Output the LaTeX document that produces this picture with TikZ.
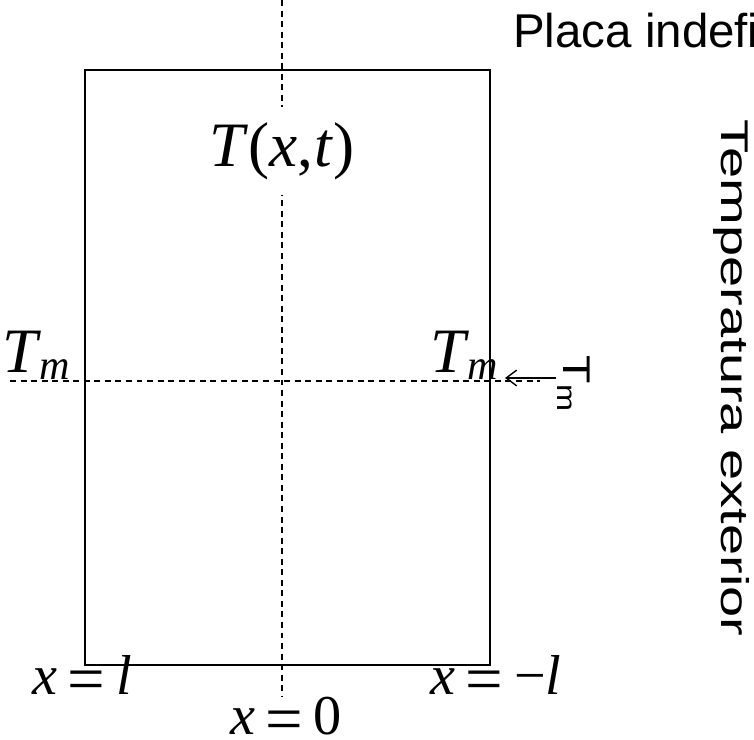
\documentclass[tikz,border=0pt]{standalone}
\usepackage{fontspec}
\setmainfont{Liberation Serif}
\newfontfamily\labelfont{Liberation Sans}
\usetikzlibrary{arrows.meta}
\newcommand{\Tmsub}{\textit{T}\kern-1pt\raisebox{-4pt}{\fontsize{24}{26}\selectfont\textit{m}}}
\newcommand{\eqsign}{\kern6pt\raisebox{-4pt}{\fontsize{38}{40}\selectfont=}\kern6pt}
\tikzset{
  axisline/.style={dash pattern=on 3.4pt off 2.6pt,line width=.8pt},
  mathlbl/.style={font=\fontsize{36}{40}\selectfont,inner sep=0pt},
  endlbl/.style={font=\fontsize{32}{36}\selectfont,inner sep=0pt,anchor=base west},
  sanslbl/.style={font=\labelfont\fontsize{22}{26}\selectfont,inner sep=0pt}
}
\begin{document}
\begin{tikzpicture}[x=0.02cm,y=-0.02cm]
  \useasboundingbox (0,0) rectangle (754,740);
  \clip (0,0) rectangle (754,740);
  \coordinate (top) at (282,0);
  \coordinate (bot) at (282,697);
  \coordinate (lft) at (10,381);
  \coordinate (rgt) at (540,381);
  \coordinate (arrs) at (556,378);
  \coordinate (arre) at (505,378);
  \draw[axisline] (top) -- (bot);
  \draw[axisline] (lft) -- (rgt);
  \draw[line width=1pt] (85,70) rectangle (490,665);
  \node[mathlbl,fill=white,inner ysep=9pt] (txt) at (282,151) {\textit{T}(\textit{x},\kern1pt\textit{t})};
  \node[mathlbl,anchor=base west] (tml) at (2,372) {\Tmsub};
  \node[mathlbl,anchor=base west] (tmr) at (430,372) {\Tmsub};
  \node[endlbl] (xl) at (32,694) {\textit{x}\eqsign\textit{l}};
  \node[endlbl] (xr) at (430,694) {\textit{x}\eqsign−\textit{l}};
  \node[endlbl,anchor=base] (x0) at (286,734) {\textit{x}\eqsign0};
  \node[sanslbl,font=\labelfont\fontsize{27}{30}\selectfont,anchor=base west] (placa) at (513,48) {Placa indefinida};
  \node[sanslbl,rotate=-90,xscale=1.45] (text) at (731,378) {Temperatura exterior};
  \node[sanslbl,rotate=-90,xscale=1.2] (tme) at (574,384) {T\textsubscript{m}};
  \draw[-{Straight Barb[length=6pt,width=9pt]},line width=.8pt] (arrs) -- (arre);
\end{tikzpicture}
\end{document}
